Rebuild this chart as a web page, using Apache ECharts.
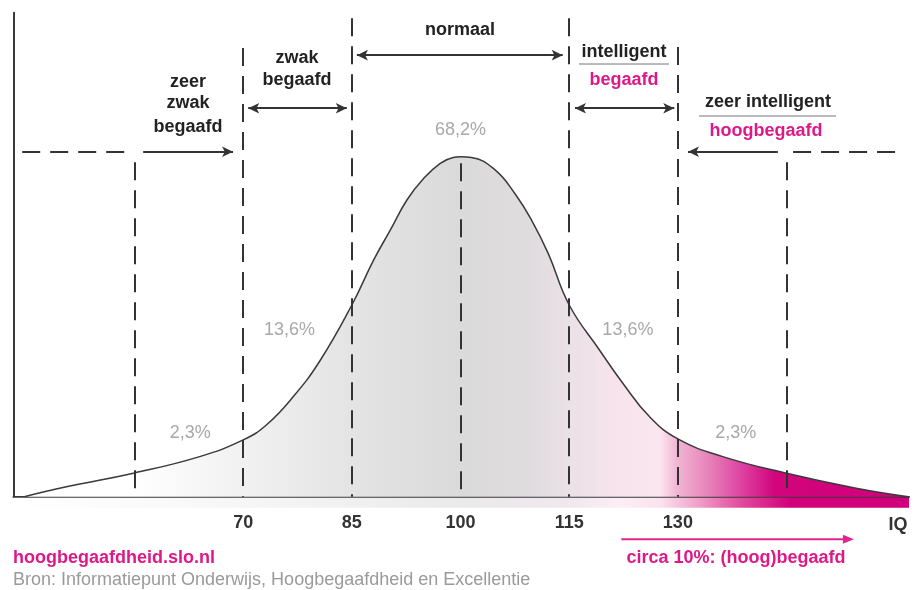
<!DOCTYPE html>
<html><head><meta charset="utf-8">
<script src="https://cdn.jsdelivr.net/npm/echarts@6/dist/echarts.min.js"></script>
<style>html,body{margin:0;padding:0;background:#fff}#c{width:916px;height:590px}</style>
</head><body><div id="c"></div>
<script>
// ---- data ----
const curveIQ = [39.8,45.6,55,64,70,73.2,76.9,80.6,85,88.0,90.3,92.6,94.9,97.2,99.0,100,101.5,104.8,107.5,109.8,112.1,115,119.2,122.4,126.1,130,136.2,145,154.6,161.8];
const curveDensity = [0,2.9,7.0,11.8,16.7,21.1,29.4,40.0,56.4,69.6,78.4,87.3,93.6,98.1,99.8,100,99.8,96.1,89.2,81.4,71.6,56.4,43.1,33.4,23.5,17.0,11.8,6.9,2.5,0];
const tickValues = [70,85,100,115,130];
const dividerIQ = [55,70,85,100,115,130,145];
const dividerTop = [98.4,132,140.8,98.1,140.8,132.3,98.4];
const pctLabels = ['2,3%','13,6%','68,2%','13,6%','2,3%'];
const pctIQ = [62.7,76.4,100,123.1,138.0];
const pctLevel = [18.7,49.0,107.8,49.0,18.7];
const giftedFrom = 122.2, giftedTo = 154.3;
const xMin = 38.3, xMax = 161.9, yMin = 0, yMax = 142.4;

const MAG = '#d0007a', TXT_MAG = '#de1888';
const FONT = '"Liberation Sans", Arial, sans-serif';

const areaGrad = new echarts.graphic.LinearGradient(0,0,1,0,[
  {offset:0,color:'#ffffff'},{offset:0.125,color:'#ffffff'},
  {offset:0.247,color:'#f1f1f1'},{offset:0.37,color:'#e4e4e4'},
  {offset:0.493,color:'#dbdadb'},{offset:0.572,color:'#dfdcde'},
  {offset:0.616,color:'#eae1e7'},{offset:0.663,color:'#f6e3ec'},
  {offset:0.719,color:'#fbe6ef'},{offset:0.738,color:'#f2b6d4'},
  {offset:0.776,color:'#e680b8'},{offset:0.813,color:'#dc40a0'},
  {offset:0.849,color:'#d2057d'},{offset:1,color:MAG}
]);
const bandGrad = new echarts.graphic.LinearGradient(0,0,1,0,[
  {offset:0,color:'#ffffff'},{offset:0.264,color:'#f6f6f6'},
  {offset:0.499,color:'#eaeaea'},{offset:0.62,color:'#f0e8ed'},
  {offset:0.677,color:'#fbeef4'},{offset:0.722,color:'#fbe3ee'},
  {offset:0.767,color:'#ef9cc6'},{offset:0.811,color:'#e04d9f'},
  {offset:0.867,color:'#d3007c'},{offset:1,color:MAG}
]);

const dash = {color:'#333', width:2, type:[18,10]};
const solid = {color:'#333', width:2, type:'solid'};
function seg(x1,y1,x2,y2,s1,s2,style){
  return [{coord:[x1,y1],symbol:s1,lineStyle:style},{coord:[x2,y2],symbol:s2}];
}
const lines = [];
dividerIQ.forEach((x,i)=>lines.push(seg(x,dividerTop[i],x,0,'none','none',dash)));
lines.push(seg(39.5,101.5,54.1,101.5,'none','none',dash));
lines.push(seg(145.9,101.5,160.5,101.5,'none','none',dash));
lines.push(seg(56.2,101.5,68.6,101.5,'none','arrow',solid));
lines.push(seg(143.8,101.5,131.4,101.5,'none','arrow',solid));
lines.push(seg(85.7,129.9,114.1,129.9,'arrow','arrow',solid));
lines.push(seg(70.7,114.3,84.3,114.3,'arrow','arrow',solid));
lines.push(seg(115.8,114.3,129.5,114.3,'arrow','arrow',solid));

function txt(x,y,text,o){
  o=o||{};
  return {type:'text', x:x, y:y, z:100, style:{text:text, font:(o.w||'bold')+' '+(o.s||18)+'px '+FONT,
    fill:o.c||'#222', textAlign:o.a||'center', textVerticalAlign:'middle'}};
}
function uline(x1,x2,y){
  return {type:'line', z:100, shape:{x1:x1,y1:y,x2:x2,y2:y}, style:{stroke:'#777',lineWidth:1}};
}

const chart = echarts.init(document.getElementById('c'), null, {renderer:'canvas'});
chart.setOption({
  animation:false,
  backgroundColor:'#fff',
  grid:{left:13.5,right:7,top:12.7,bottom:93.3,outerBoundsMode:'none',containLabel:false},
  xAxis:{type:'value',min:xMin,max:xMax,splitLine:{show:false},
    axisLine:{onZero:false,lineStyle:{color:'#3a3a3a',width:2}},
    axisTick:{show:false},
    axisLabel:{customValues:tickValues,margin:17,color:'#333',fontSize:18,fontWeight:'bold',fontFamily:FONT}},
  yAxis:{type:'value',min:yMin,max:yMax,splitLine:{show:false},axisTick:{show:false},axisLabel:{show:false},
    axisLine:{show:true,onZero:false,lineStyle:{color:'#3a3a3a',width:2}}},
  series:[
    {type:'line',z:2,data:curveIQ.map((x,i)=>[x,curveDensity[i]]),smooth:0.45,
     symbol:'none',lineStyle:{color:'#3a3a3a',width:1.5},areaStyle:{color:areaGrad,opacity:1},
     markPoint:{symbol:'circle',symbolSize:1,itemStyle:{color:'rgba(0,0,0,0)'},
       label:{show:true,position:'inside',color:'#a8a8a8',fontSize:18,fontFamily:FONT,formatter:p=>p.name},
       data:pctLabels.map((l,i)=>({name:l,coord:[pctIQ[i],pctLevel[i]]}))}
    },
    {type:'line',z:4,data:[],silent:true,
     markLine:{silent:true,symbolSize:[8,11],label:{show:false},data:lines}
    }
  ]
});

// decorations positioned through the chart's own scales
const b0 = chart.convertToPixel({gridIndex:0},[xMin,0]);
const b1 = chart.convertToPixel({gridIndex:0},[xMax,0]);
const a0 = chart.convertToPixel({gridIndex:0},[giftedFrom,0]);
const a1 = chart.convertToPixel({gridIndex:0},[giftedTo,0]);
const ay = b0[1] + 42.5;
chart.setOption({
  graphic:[
    {type:'rect', z:1, shape:{x:b0[0], y:b0[1]+1, width:b1[0]-b0[0], height:10}, style:{fill:bandGrad}},
    {type:'line', z:100, shape:{x1:a0[0],y1:ay,x2:a1[0]-8,y2:ay}, style:{stroke:'#e0268e',lineWidth:2}},
    {type:'polygon', z:100, shape:{points:[[a1[0],ay],[a1[0]-11,ay-4.5],[a1[0]-11,ay+4.5]]}, style:{fill:'#e0268e'}},
    txt(460,30,'normaal'),
    txt(297,58,'zwak'),txt(297,80,'begaafd'),
    txt(188,82,'zeer'),txt(188,103,'zwak'),txt(188,127,'begaafd'),
    txt(624,52,'intelligent'),uline(579,669,64),txt(624,80,'begaafd',{c:TXT_MAG}),
    txt(768,102,'zeer intelligent'),uline(699,836,116),txt(766,131,'hoogbegaafd',{c:TXT_MAG}),
    txt(898,525,'IQ',{c:'#333'}),
    txt(13,558,'hoogbegaafdheid.slo.nl',{c:TXT_MAG,a:'left'}),
    txt(13,580,'Bron: Informatiepunt Onderwijs, Hoogbegaafdheid en Excellentie',{c:'#9a9a9a',a:'left',w:'normal'}),
    txt(736,558,'circa 10%: (hoog)begaafd',{c:TXT_MAG})
  ]
});
</script></body></html>
